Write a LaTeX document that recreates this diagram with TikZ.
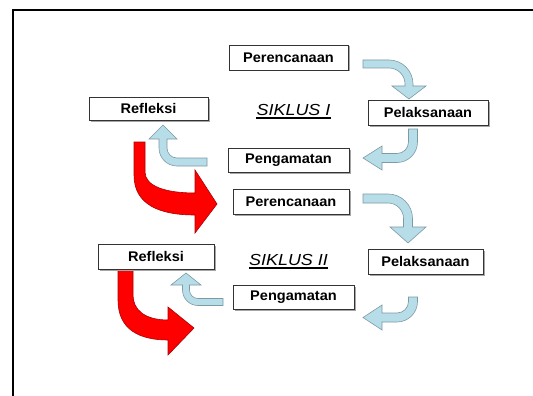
\documentclass[tikz,border=0pt]{standalone}
\usepackage{fontspec}
\setmainfont{Liberation Sans}
\newfontfamily\boxfont{Liberation Sans}[FakeStretch=1.04]
\newfontfamily\sikfont{Liberation Sans}[FakeStretch=1.12]
\usetikzlibrary{shadows}
\definecolor{lblue}{RGB}{183,221,232}
\definecolor{lblueedge}{RGB}{125,155,165}
\definecolor{redfill}{RGB}{255,0,0}
\definecolor{rededge}{RGB}{170,0,0}
\tikzset{
  stagebox/.style={draw=black!80, line width=0.7pt, fill=white, inner sep=0pt,
    minimum height=25pt, font=\boxfont\bfseries\fontsize{14}{16}\selectfont,
    drop shadow={shadow xshift=1.5pt, shadow yshift=-1.5pt, fill=black!35, opacity=1}},
  sikluslabel/.style={inner sep=0pt, font=\sikfont\itshape\fontsize{16}{18}\selectfont},
  underl/.style={line width=1.1pt},
  bluearrow/.style={fill=lblue, draw=lblueedge, line width=0.6pt, line join=miter},
  redarrow/.style={fill=redfill, draw=rededge, line width=0.6pt, line join=miter},
  frameline/.style={line width=1.8pt, line join=miter}
}
\begin{document}
\begin{tikzpicture}[x=1pt,y=1pt]
\useasboundingbox (0,0) rectangle (533,-396);
\fill[white] (0,0) rectangle (533,-396);
\draw[frameline] (13,-396) -- (13,-10) -- (533,-10);

% red arrows
\draw[redarrow] (134,-142) -- (134,-175) .. controls (134,-205) and (160,-215) .. (195,-215)
  -- (195,-233) -- (217,-204) -- (195,-170) -- (195,-193)
  .. controls (165,-193) and (145,-186) .. (145,-172) -- (145,-142) -- cycle;
\draw[redarrow] (118,-268) -- (118,-300) .. controls (118,-330) and (140,-340) .. (168,-340)
  -- (168,-355) -- (194,-328) -- (168,-307) -- (168,-320)
  .. controls (145,-320) and (133,-310) .. (133,-295) -- (133,-268) -- cycle;

% blue arrows, cycle I
\draw[bluearrow] (363,-60) -- (389,-60) arc[start angle=90,end angle=0,radius=24pt]
  -- (413,-86) -- (426,-86) -- (409,-99) -- (392,-86) -- (405,-86) -- (405,-84)
  arc[start angle=0,end angle=90,radius=16pt] -- (363,-68) -- cycle;
\draw[bluearrow] (408.5,-129) -- (417.5,-129) -- (417.5,-142)
  arc[start angle=0,end angle=-90,radius=20.5pt] -- (382,-162.5) -- (382,-170)
  -- (363,-158) -- (382,-146) -- (382,-153.5) -- (397,-153.5)
  arc[start angle=-90,end angle=0,radius=11.5pt] -- cycle;
\draw[bluearrow] (207,-158) -- (177,-158) arc[start angle=-90,end angle=-180,radius=10pt]
  -- (167,-139) -- (177,-139) -- (163,-125) -- (149,-139) -- (159,-139) -- (159,-148)
  arc[start angle=180,end angle=270,radius=18pt] -- (207,-166) -- cycle;

% blue arrows, cycle II
\draw[bluearrow] (363,-194) -- (388,-194) arc[start angle=90,end angle=0,radius=24.5pt]
  -- (412.5,-227) -- (426,-227) -- (408,-243) -- (390,-227) -- (403.5,-227) -- (403.5,-218.5)
  arc[start angle=0,end angle=90,radius=15.5pt] -- (363,-203) -- cycle;
\draw[bluearrow] (408.5,-297) -- (417.5,-297) -- (417.5,-301.5)
  arc[start angle=0,end angle=-90,radius=20.5pt] -- (382,-322) -- (382,-330)
  -- (363,-317.5) -- (382,-305) -- (382,-313) -- (397,-313)
  arc[start angle=-90,end angle=0,radius=11.5pt] -- cycle;
\draw[bluearrow] (223,-298.5) -- (198,-298.5) arc[start angle=-90,end angle=-180,radius=8.5pt]
  -- (189.5,-285) -- (201,-285) -- (186,-273) -- (171,-285) -- (182.5,-285) -- (182.5,-290)
  arc[start angle=180,end angle=270,radius=15.5pt] -- (223,-305.5) -- cycle;

% boxes, cycle I
\node[stagebox, minimum width=119pt] (p1) at (288.5,-57.5) {Perencanaan};
\node[stagebox, minimum width=119pt, minimum height=23pt] (r1) at (148.5,-108.5) {Refleksi};
\node[stagebox, minimum width=120pt] (l1) at (428,-112.5) {Pelaksanaan};
\node[stagebox, minimum width=121pt, minimum height=24pt] (g1) at (288.5,-160) {Pengamatan};
\node[sikluslabel] (s1) at (293.5,-110) {SIKLUS I};
\draw[underl] ([yshift=-2.5pt]s1.base west) -- ([yshift=-2.5pt]s1.base east);

% boxes, cycle II
\node[stagebox, minimum width=116pt] (p2) at (291,-201.5) {Perencanaan};
\node[stagebox, minimum width=116pt] (r2) at (156,-256.5) {Refleksi};
\node[stagebox, minimum width=115pt] (l2) at (425.5,-261.5) {Pelaksanaan};
\node[stagebox, minimum width=121pt, minimum height=24pt] (g2) at (293.5,-297) {Pengamatan};
\node[sikluslabel] (s2) at (288.5,-260) {SIKLUS II};
\draw[underl] ([yshift=-2.5pt]s2.base west) -- ([yshift=-2.5pt]s2.base east);
\end{tikzpicture}
\end{document}
